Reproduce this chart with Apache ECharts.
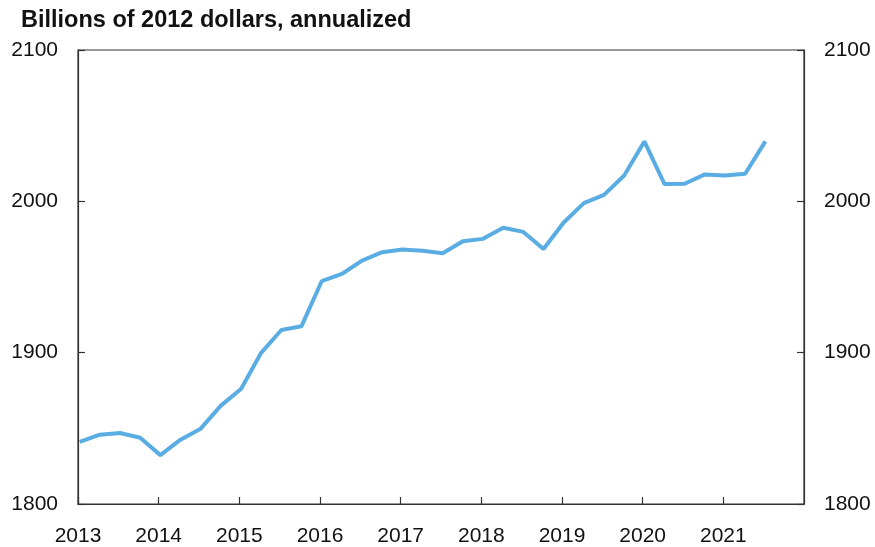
<!DOCTYPE html>
<html>
<head>
<meta charset="utf-8">
<script src="https://cdn.jsdelivr.net/npm/echarts@6/dist/echarts.min.js"></script>
<style>
html,body{margin:0;padding:0;background:#fff;}
#chart{width:875px;height:547px;}
</style>
</head>
<body>
<div id="chart"></div>
<script>
// Quarterly observations, 2013Q1 .. 2021Q3
const startYear = 2013;
const values = [
  1841, 1845.8, 1846.9, 1843.8,
  1832.3, 1842.5, 1849.8, 1865,
  1876, 1899.9, 1915, 1917.5,
  1947.2, 1952, 1960.8, 1966.4,
  1968.1, 1967.4, 1965.7, 1973.6,
  1975.2, 1982.5, 1979.8, 1968.5,
  1986, 1998.8, 2004.3, 2017.1,
  2039.6, 2011.4, 2011.6, 2017.8,
  2017.1, 2018.2, 2039.6
];
const yearTicks = [2013, 2014, 2015, 2016, 2017, 2018, 2019, 2020, 2021];
const yTicks = [1800, 1900, 2000, 2100];
const titleText = 'Billions of 2012 dollars, annualized';

// x position of each quarterly observation (decimal year)
const seriesData = values.map((v, i) => [startYear + i / 4 + 1 / 48, v]);

const font = 'Liberation Sans, Arial, Helvetica, sans-serif';
const axisColor = '#333';
const labelColor = '#111';

const yAxisCommon = {
  type: 'value',
  min: yTicks[0], max: yTicks[yTicks.length - 1], interval: 100,
  axisLine: {show: true, lineStyle: {color: axisColor, width: 1.2}},
  axisTick: {show: true, inside: true, length: 7, lineStyle: {color: axisColor, width: 1.2}},
  splitLine: {show: false},
  axisLabel: {margin: 20, fontFamily: font, fontSize: 21, color: labelColor, formatter: v => String(v)}
};

const chart = echarts.init(document.getElementById('chart'), null, {renderer: 'canvas'});
chart.setOption({
  animation: false,
  backgroundColor: '#fff',
  title: {
    text: titleText,
    left: 16,
    top: 4,
    textStyle: {fontFamily: font, fontSize: 23.5, fontWeight: 'bold', color: '#111'}
  },
  grid: {
    left: 78, right: 71, top: 50, bottom: 43,
    show: true, borderColor: axisColor, borderWidth: 1.2, backgroundColor: 'transparent'
  },
  xAxis: {
    type: 'value',
    min: 2013, max: 2022, interval: 1,
    axisLine: {show: true, lineStyle: {color: axisColor, width: 1.2}},
    axisTick: {show: true, inside: true, length: 7, lineStyle: {color: axisColor, width: 1.2}},
    splitLine: {show: false},
    axisLabel: {
      margin: 22,
      fontFamily: font, fontSize: 21, color: labelColor,
      showMaxLabel: false,
      formatter: v => yearTicks.includes(v) ? String(v) : ''
    }
  },
  yAxis: [
    Object.assign({position: 'left'}, yAxisCommon),
    Object.assign({position: 'right'}, yAxisCommon)
  ],
  series: [{
    type: 'line',
    data: seriesData,
    yAxisIndex: 0,
    showSymbol: false,
    symbol: 'none',
    lineStyle: {color: '#5aade3', width: 4},
    clip: true
  }]
});
</script>
</body>
</html>
